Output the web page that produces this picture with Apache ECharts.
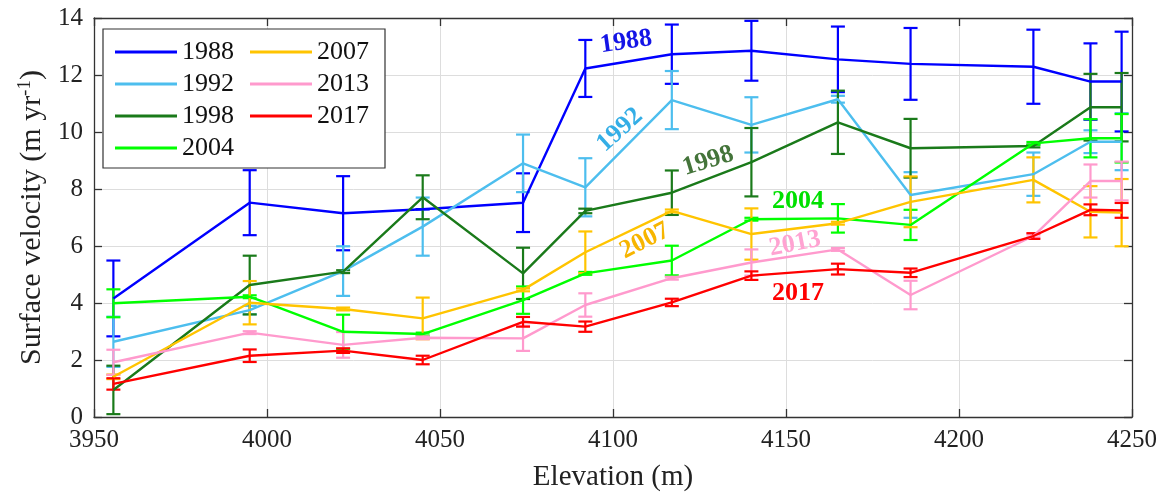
<!DOCTYPE html>
<html>
<head>
<meta charset="utf-8">
<script src="https://cdn.jsdelivr.net/npm/echarts@6/dist/echarts.min.js"></script>
<style>
html,body{margin:0;padding:0;background:#fff;}
#main{width:1162px;height:493px;}
</style>
</head>
<body>
<div id="main"></div>
<script>
// Elevation (m) of each sample point
const elevations = [3955.6, 3995, 4022, 4045, 4074, 4092, 4117, 4140, 4165, 4186, 4221.5, 4238, 4247];
// Tick values
const xTicks = [3950, 4000, 4050, 4100, 4150, 4200, 4250];
const yTicks = [0, 2, 4, 6, 8, 10, 12, 14];
const years = ['1988', '1992', '1998', '2004', '2007', '2013', '2017'];

// Surface velocity (m/yr) and error half-widths
const v1988 = [4.16, 7.52, 7.15, 7.29, 7.52, 12.23, 12.73, 12.85, 12.55, 12.39, 12.29, 11.77, 11.77];
const e1988 = [1.33, 1.14, 1.30, 0.00, 1.03, 1.00, 1.04, 1.05, 1.15, 1.26, 1.30, 1.34, 1.75];
const v1992 = [2.64, 3.75, 5.12, 6.68, 8.90, 8.06, 11.12, 10.25, 11.15, 7.79, 8.52, 9.66, 9.66];
const e1992 = [0.88, 0.15, 0.87, 1.02, 1.01, 1.02, 1.02, 0.97, 0.12, 0.80, 0.76, 0.40, 1.00];
const v1998 = [0.95, 4.63, 5.10, 7.71, 5.04, 7.23, 7.87, 8.94, 10.34, 9.43, 9.51, 10.87, 10.87];
const e1998 = [0.85, 1.03, 0.05, 0.77, 0.90, 0.08, 0.78, 1.20, 1.11, 1.03, 0.05, 1.17, 1.20];
const v2004 = [3.99, 4.22, 2.99, 2.91, 4.10, 5.04, 5.49, 6.94, 6.97, 6.74, 9.60, 9.78, 9.78];
const e2004 = [0.49, 0.05, 0.60, 0.05, 0.48, 0.05, 0.52, 0.05, 0.50, 0.53, 0.05, 0.67, 0.85];
const v2007 = [1.41, 4.01, 3.79, 3.46, 4.46, 5.78, 7.23, 6.42, 6.80, 7.55, 8.32, 7.20, 7.17];
const e2007 = [0.08, 0.76, 0.05, 0.73, 0.05, 0.73, 0.05, 0.90, 0.05, 0.89, 0.79, 0.90, 1.18];
const v2013 = [1.92, 2.96, 2.53, 2.78, 2.76, 3.93, 4.87, 5.42, 5.88, 4.28, 6.35, 8.28, 8.28];
const e2013 = [0.44, 0.05, 0.45, 0.05, 0.44, 0.41, 0.05, 0.46, 0.05, 0.50, 0.05, 0.58, 0.68];
const v2017 = [1.16, 2.15, 2.33, 2.00, 3.34, 3.17, 4.02, 4.96, 5.19, 5.06, 6.35, 7.27, 7.25];
const e2017 = [0.20, 0.22, 0.08, 0.15, 0.17, 0.18, 0.13, 0.15, 0.19, 0.15, 0.10, 0.19, 0.26];

// In-plot label anchors [elevation, velocity, rotation deg]
const labelAnchors = [
  [4103.8, 13.16, 8], [4102, 10.07, 42], [4127.5, 8.98, 17], [4153.5, 7.58, 0],
  [4109.2, 6.18, 27], [4152.6, 6.07, 11], [4153.5, 4.35, 0]
];

const values = [v1988, v1992, v1998, v2004, v2007, v2013, v2017];
const errors = [e1988, e1992, e1998, e2004, e2007, e2013, e2017];
const colors = ['#0000FF', '#4DBEEE', '#1A7A1A', '#00FF00', '#FFC400', '#FF9ACD', '#FF0000'];
const labelColors = ['#1414E6', '#34AEE6', '#44743A', '#00E000', '#F7B500', '#FFA3D2', '#FF0000'];

const FONT = '"Liberation Serif", "Times New Roman", serif';

const series = [];
years.forEach((y, i) => {
  series.push({
    name: y + ' err', type: 'custom', z: 3,
    data: elevations.map((x, k) => [x, values[i][k] - errors[i][k], values[i][k] + errors[i][k]]),
    renderItem: (params, api) => {
      const x = api.value(0), lo = api.value(1), hi = api.value(2);
      const a = api.coord([x, lo]), b = api.coord([x, hi]);
      const w = 7;
      const st = { stroke: colors[i], lineWidth: 2.2 };
      return { type: 'group', children: [
        { type: 'line', shape: { x1: a[0], y1: a[1], x2: b[0], y2: b[1] }, style: st },
        { type: 'line', shape: { x1: a[0] - w, y1: a[1], x2: a[0] + w, y2: a[1] }, style: st },
        { type: 'line', shape: { x1: b[0] - w, y1: b[1], x2: b[0] + w, y2: b[1] }, style: st }
      ]};
    },
    silent: true
  });
  series.push({
    name: y, type: 'line', z: 4,
    data: elevations.map((x, k) => [x, values[i][k]]),
    showSymbol: false, symbol: 'none',
    lineStyle: { color: colors[i], width: 2.4 },
    itemStyle: { color: colors[i] },
    animation: false
  });
});

const chart = echarts.init(document.getElementById('main'), null, { renderer: 'canvas' });
const axisLineStyle = { color: '#333', width: 1.3 };
const option = {
  animation: false,
  backgroundColor: '#fff',
  grid: { left: 94, right: 30, top: 18, bottom: 76, containLabel: false, outerBoundsMode: 'none' },
  legend: {
    data: years,
    orient: 'vertical',
    left: 103, top: 29,
    height: 124,
    padding: [10, 6, 7, 12],
    itemGap: 6,
    itemWidth: 62, itemHeight: 3,
    icon: 'rect',
    borderColor: '#333', borderWidth: 1.2,
    backgroundColor: '#fff',
    textStyle: { fontFamily: FONT, fontSize: 26, color: '#111', lineHeight: 26, width: 62 },
    selectedMode: false
  },
  xAxis: [{
    type: 'value', min: xTicks[0], max: xTicks[xTicks.length - 1], interval: 50,
    name: 'Elevation (m)', nameLocation: 'middle', nameGap: 46,
    nameTextStyle: { fontFamily: FONT, fontSize: 29, color: '#222' },
    axisLine: { show: true, lineStyle: axisLineStyle },
    axisTick: { inside: true, length: 8, lineStyle: axisLineStyle },
    axisLabel: { fontFamily: FONT, fontSize: 25, color: '#222', margin: 11, formatter: v => String(v) },
    splitLine: { show: true, lineStyle: { color: '#DDDDDD', width: 1 } }
  }, {
    type: 'value', position: 'top', min: xTicks[0], max: xTicks[xTicks.length - 1], interval: 50,
    axisLine: { show: true, onZero: false, lineStyle: axisLineStyle },
    axisTick: { inside: true, length: 8, lineStyle: axisLineStyle },
    axisLabel: { show: false }, splitLine: { show: false }
  }],
  yAxis: [{
    type: 'value', min: yTicks[0], max: yTicks[yTicks.length - 1], interval: 2,
    name: '{a|Surface velocity (m yr}{s|-1}{a|)}', nameLocation: 'middle', nameGap: 42,
    nameTextStyle: { fontFamily: FONT, fontSize: 30, color: '#222',
      rich: {
        a: { fontFamily: FONT, fontSize: 30, color: '#222', lineHeight: 32, verticalAlign: 'bottom' },
        s: { fontFamily: FONT, fontSize: 19, color: '#222', lineHeight: 32, verticalAlign: 'top' }
      } },
    axisLine: { show: true, lineStyle: axisLineStyle },
    axisTick: { inside: true, length: 8, lineStyle: axisLineStyle },
    axisLabel: { fontFamily: FONT, fontSize: 25, color: '#222', margin: 11, formatter: v => String(v) },
    splitLine: { show: true, lineStyle: { color: '#DDDDDD', width: 1 } }
  }, {
    type: 'value', position: 'right', min: yTicks[0], max: yTicks[yTicks.length - 1], interval: 2,
    axisLine: { show: true, onZero: false, lineStyle: axisLineStyle },
    axisTick: { inside: true, length: 8, lineStyle: axisLineStyle },
    axisLabel: { show: false }, splitLine: { show: false }
  }],
  series: series
};
chart.setOption(option);

const graphics = labelAnchors.map((p, i) => {
  const px = chart.convertToPixel({ gridIndex: 0 }, [p[0], p[1]]);
  return {
    type: 'text', x: px[0], y: px[1], rotation: p[2] * Math.PI / 180, z: 10,
    style: { text: years[i], fill: labelColors[i], font: 'bold 26px ' + FONT,
      textAlign: 'center', textVerticalAlign: 'middle' }
  };
});
chart.setOption({ graphic: graphics });
</script>
</body>
</html>
